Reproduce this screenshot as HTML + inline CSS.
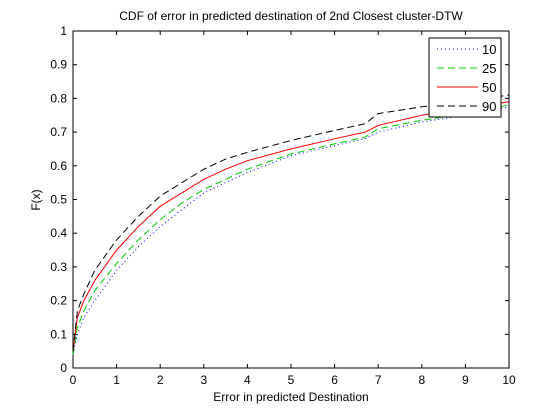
<!DOCTYPE html>
<html><head><meta charset="utf-8"><style>
body{margin:0;background:#fff;}
svg{display:block;font-family:"Liberation Sans",sans-serif;}
</style></head><body>
<svg id="chart" width="560" height="414" viewBox="0 0 560 414">
<rect x="0" y="0" width="560" height="414" fill="#fff"/>
<rect x="73" y="31" width="436" height="337" fill="#fff" stroke="#000" stroke-width="1"/>
<g id="ticks"></g>
<g id="series"></g>
<text x="291" y="20" font-size="12" text-anchor="middle">CDF of error in predicted destination of 2nd Closest cluster-DTW</text>
<text x="291" y="401" font-size="12" text-anchor="middle">Error in predicted Destination</text>
<text x="40" y="200" font-size="12" text-anchor="middle" transform="rotate(-90 40 200)">F(x)</text>
<g>
<rect x="429" y="38" width="72" height="79" fill="#fff" stroke="#000"/>
<line x1="437" y1="49" x2="478" y2="49" stroke="#0000ff" stroke-dasharray="1,3"/>
<text x="482" y="54" font-size="13">10</text>
<line x1="437" y1="68" x2="478" y2="68" stroke="#00cc00" stroke-dasharray="7,4"/>
<text x="482" y="73" font-size="13">25</text>
<line x1="437" y1="87" x2="478" y2="87" stroke="#ff0000"/>
<text x="482" y="92" font-size="13">50</text>
<line x1="437" y1="106" x2="478" y2="106" stroke="#000" stroke-dasharray="7,4"/>
<text x="482" y="111" font-size="13">90</text>
</g>
</svg>
<script>
const xVals=[0,0.1,0.25,0.5,1,1.5,2,2.5,3,3.5,4,5,6,6.7,7,8,9,10];
const s10=[0.04,0.10,0.15,0.20,0.29,0.36,0.42,0.47,0.52,0.55,0.58,0.63,0.66,0.68,0.70,0.73,0.75,0.775];
const s25=[0.04,0.12,0.17,0.23,0.31,0.38,0.44,0.49,0.53,0.56,0.59,0.635,0.665,0.685,0.71,0.735,0.755,0.78];
const s50=[0.05,0.15,0.20,0.26,0.35,0.42,0.48,0.52,0.56,0.59,0.615,0.65,0.68,0.70,0.72,0.75,0.77,0.79];
const s90=[0.05,0.17,0.22,0.29,0.38,0.45,0.51,0.55,0.59,0.62,0.64,0.675,0.705,0.725,0.755,0.775,0.79,0.81];
const xTicks=[0,1,2,3,4,5,6,7,8,9,10];
const yTicks=[0,0.1,0.2,0.3,0.4,0.5,0.6,0.7,0.8,0.9,1];
const yTickLabels=["0","0.1","0.2","0.3","0.4","0.5","0.6","0.7","0.8","0.9","1"];
const NS="http://www.w3.org/2000/svg";
const X=v=>73+v*43.6, Y=v=>368-v*337;
const tg=document.getElementById('ticks');
function mk(tag,attrs,parent){const e=document.createElementNS(NS,tag);for(const k in attrs)e.setAttribute(k,attrs[k]);parent.appendChild(e);return e;}
xTicks.forEach((t,i)=>{
  const x=X(t);
  const a=mk('line',{x1:x,y1:368,x2:x,y2:364,stroke:'#000'},tg);
  
  
  const b=mk('line',{x1:x,y1:31,x2:x,y2:35,stroke:'#000'},tg);
  
  
  const l=mk('text',{x:x,y:384,'font-size':12,'text-anchor':'middle'},tg);
  l.textContent=String(t);
  
  
});
yTicks.forEach((t,i)=>{
  const y=Y(t);
  const a=mk('line',{x1:73,y1:y,x2:77,y2:y,stroke:'#000'},tg);
  
  
  const b=mk('line',{x1:509,y1:y,x2:505,y2:y,stroke:'#000'},tg);
  
  
  const l=mk('text',{x:67,y:y+4,'font-size':12,'text-anchor':'end'},tg);
  l.textContent=yTickLabels[i];
  
  
});
const sg=document.getElementById('series');
[[s10,'#0000ff','1,3','series-10'],[s25,'#00cc00','7,4','series-25'],[s50,'#ff0000','','series-50'],[s90,'#000000','7,4','series-90']].forEach(([d,c,dash,n])=>{
  const pts=d.map((v,i)=>X(xVals[i]).toFixed(1)+','+Y(v).toFixed(1)).join(' ');
  const attrs={points:pts,fill:'none',stroke:c,'stroke-width':1};
  if(dash)attrs['stroke-dasharray']=dash;
  const p=mk('polyline',attrs,sg);
  
  
});
</script>
</body></html>
